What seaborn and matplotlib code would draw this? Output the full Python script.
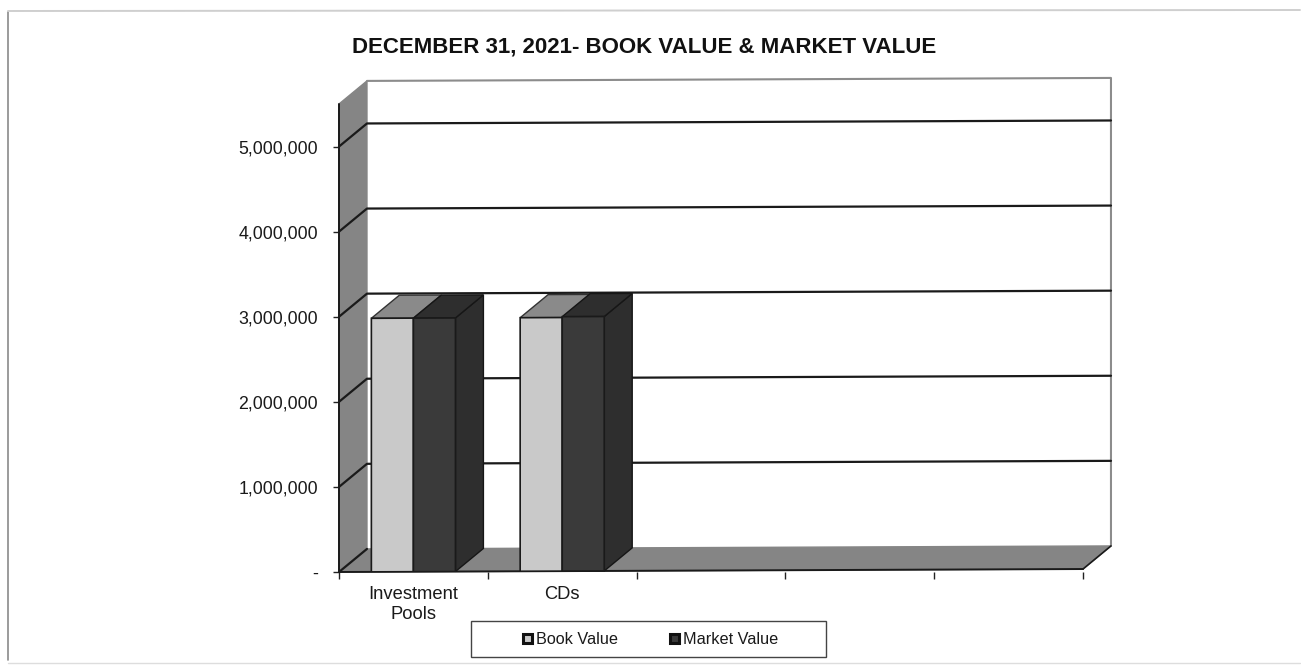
import pandas as pd
import seaborn as sns
import matplotlib.pyplot as plt
from matplotlib.patches import Polygon, Rectangle
from matplotlib.lines import Line2D
from matplotlib.transforms import Affine2D

categories = ["Investment\nPools", "CDs"]
blank_slots = ["", " ", "  "]
book_value = [2980000, 2980000]
market_value = [2980000, 2990000]
y_ticks = [0, 1000000, 2000000, 3000000, 4000000, 5000000]

title = "DECEMBER 31, 2021- BOOK VALUE & MARKET VALUE"
book_color = "#c9c9c9"
market_color = "#3a3a3a"
wall_color = "#858585"

df = pd.DataFrame({
    "category": categories * 2,
    "series": ["Book Value"] * 2 + ["Market Value"] * 2,
    "value": book_value + market_value,
})

sns.set_theme(style="white")
plt.rcParams["font.family"] = ["Liberation Sans", "DejaVu Sans"]

fig = plt.figure(figsize=(13.01, 6.65), dpi=100, facecolor="white")
ax = fig.add_axes([339 / 1301, 1 - 572 / 665, 744 / 1301, 468 / 665])
ax.patch.set_visible(False)

sns.barplot(
    data=df, x="category", y="value", hue="series",
    order=categories + blank_slots,
    palette=[book_color, market_color],
    width=0.565, gap=0, errorbar=None, saturation=1,
    edgecolor="#1a1a1a", linewidth=1.2, ax=ax, zorder=5,
)

ax.set_xlim(-0.5, 4.5)
ax.set_ylim(0, 5500000)

# the scan is a little crooked, lines climb to the right
k = 0.004
tilt = ax.transData + Affine2D().from_values(1, k, 0, 1, 0, -k * 339)
dx = 0.188
dy = 270000
x0, x1 = ax.get_xlim()
top = ax.get_ylim()[1]


def face(points, color, z=1, edge=None):
    ax.add_patch(Polygon(points, closed=True, facecolor=color, edgecolor=edge or color,
                         linewidth=1, transform=tilt, clip_on=False, zorder=z))


def line(xs, ys, color="#1a1a1a", lw=1.6, z=2):
    ax.add_line(Line2D(xs, ys, color=color, lw=lw, transform=tilt, clip_on=False, zorder=z))


# walls and floor
face([(x0, 0), (x0 + dx, dy), (x0 + dx, top + dy), (x0, top)], wall_color)
face([(x0, 0), (x1, 0), (x1 + dx, dy), (x0 + dx, dy)], wall_color)
line([x0 + dx, x1 + dx, x1 + dx], [top + dy, top + dy, dy], color="#8c8c8c", lw=1.5)

for v in y_ticks:
    if v > 0:
        line([x0, x0 + dx, x1 + dx], [v, v + dy, v + dy])
    else:
        line([x0, x0 + dx], [v, v + dy])

line([x1, x1 + dx], [0, dy], lw=1.2, z=3)
line([x0, x0], [0, top], lw=1.4, z=3)
line([x0, x1], [0, 0], lw=1.4, z=3)

# depth faces of the bars
for bar in ax.patches[:]:
    if not isinstance(bar, Rectangle) or bar.get_height() != bar.get_height():
        continue
    x = bar.get_x()
    w = bar.get_width()
    h = bar.get_height()
    if h <= 0:
        continue
    is_market = bar.get_facecolor()[0] < 0.5
    bar.set_transform(tilt)
    if is_market:
        face([(x + w, 0), (x + w + dx, dy), (x + w + dx, h + dy), (x + w, h)], "#2e2e2e", z=4, edge="#161616")
        face([(x, h), (x + w, h), (x + w + dx, h + dy), (x + dx, h + dy)], "#2e2e2e", z=4, edge="#161616")
    else:
        face([(x, h), (x + w, h), (x + w + dx, h + dy), (x + dx, h + dy)], "#8a8a8a", z=4, edge="#333333")

sns.despine(ax=ax, left=True, bottom=True)
ax.set_xlabel("")
ax.set_ylabel("")
ax.set_xticks([x0 + i for i in range(6)])
ax.set_xticklabels([])
ax.set_xticks(range(5), categories + blank_slots, minor=True)
ax.tick_params(axis="x", which="major", bottom=True, length=5, width=1, color="#222222")
ax.tick_params(axis="x", which="minor", bottom=False, labelsize=13.2, labelcolor="#1a1a1a", pad=6)
for lab in ax.get_xticklabels(minor=True):
    lab.set_linespacing(1.25)
ax.set_yticks(y_ticks)
ax.set_yticklabels(["-" if v == 0 else f"{v:,}" for v in y_ticks])
ax.tick_params(axis="y", left=True, length=4, width=1, color="#222222",
               labelsize=12.8, labelcolor="#1a1a1a", pad=11)

fig.text(644 / 1301, 1 - 47 / 665, title, ha="center", va="center",
         fontsize=16, fontweight="bold", color="#111111")

# legend box
fig.add_artist(Rectangle((471 / 1301, 1 - 657 / 665), 355 / 1301, 36 / 665,
                         transform=fig.transFigure, facecolor="white",
                         edgecolor="#444444", linewidth=1, zorder=-1))
handles, labels = ax.get_legend_handles_labels()
leg = ax.legend(handles, labels, loc="center", bbox_to_anchor=(651 / 1301, 1 - 640 / 665),
                bbox_transform=fig.transFigure, ncols=2, frameon=False, fontsize=11.7,
                handlelength=0.5, handleheight=0.5, handletextpad=0.3,
                columnspacing=3.2, labelcolor="#1a1a1a")
leg.set_zorder(10)
for h in leg.get_patches():
    h.set_edgecolor("#111111")
    h.set_linewidth(2.2)

# page frame from the scan
fig.add_artist(Line2D([8 / 1301, 8 / 1301], [1 - 12 / 665, 1 - 660 / 665], color="#8a8a8a", lw=1.2))
fig.add_artist(Line2D([8 / 1301, 1300 / 1301], [1 - 11 / 665, 1 - 10 / 665], color="#cfcfcf", lw=1.4))
fig.add_artist(Line2D([8 / 1301, 1300 / 1301], [1 - 663 / 665, 1 - 663 / 665], color="#dddddd", lw=1))

fig.savefig("out.png", dpi=100)
